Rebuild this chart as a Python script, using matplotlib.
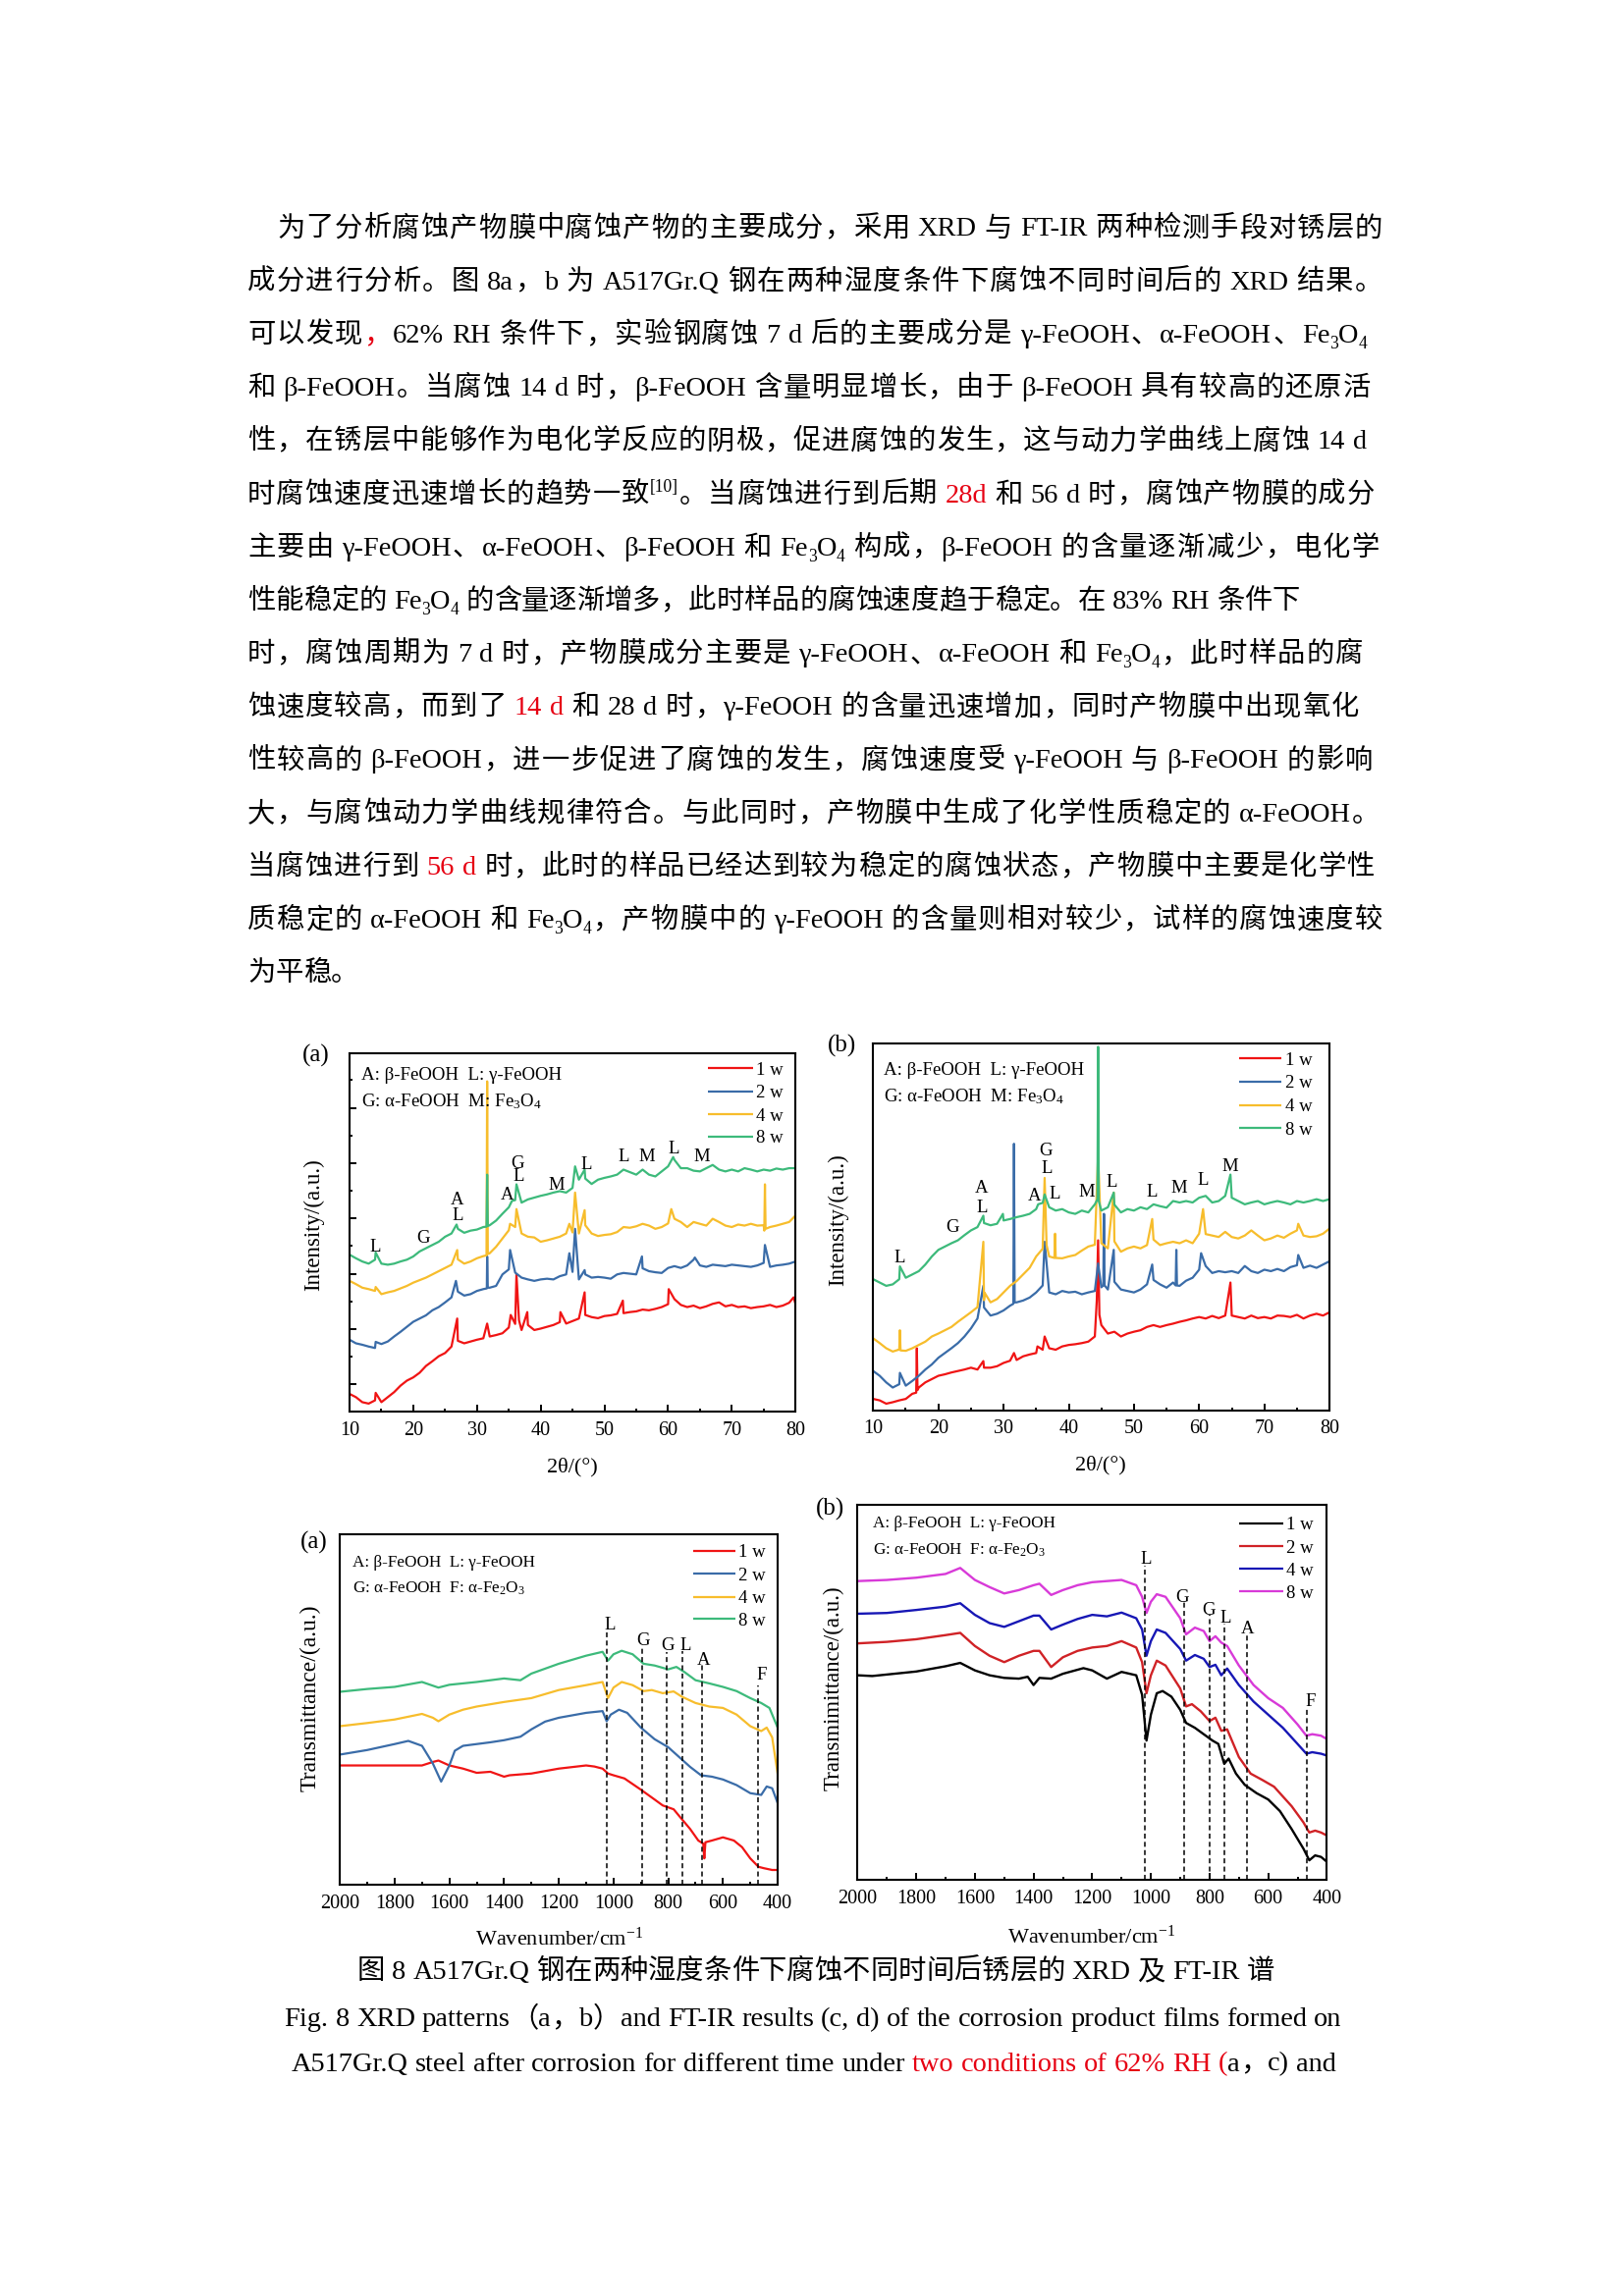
import functools
import numpy as np
import matplotlib
matplotlib.use("Agg")
import matplotlib.pyplot as plt
from matplotlib.font_manager import FontProperties
from matplotlib.ticker import MultipleLocator

W, H = 1654, 2339
FAM = ["Liberation Serif", "Noto Sans CJK SC"]
plt.rcParams["font.family"] = FAM
plt.rcParams["mathtext.fontset"] = "custom"
plt.rcParams["mathtext.rm"] = "Liberation Serif"
plt.rcParams["mathtext.default"] = "regular"

# -----------------------------
# data
# -----------------------------
weeks = ["1 w", "2 w", "4 w", "8 w"]
xrd_colors = ["#f01414", "#3a6ca8", "#f7bd2c", "#3dba7b"]
ftir_b_colors = ["#000000", "#d02226", "#1717b5", "#d83ad8"]

two_theta = np.arange(10, 81)

# XRD (a) 62% RH, baseline every 1 degree + peak points
xa_red = [5.0, 4.1, 2.7, 2.3, 3.2, 2.7, 4.1, 5.5, 7.3, 8.7,
          9.6, 10.9, 12.8, 14.1, 15.5, 16.4, 18.2, 19.8, 19.1, 19.6,
          20.1, 20.5, 21.0, 21.4, 21.9, 23.5, 24.5, 22.8, 24.2, 22.8,
          23.2, 23.7, 24.2, 25.0, 24.6, 25.3, 26.0, 27.0, 26.4, 26.1,
          26.7, 26.9, 27.3, 27.5, 27.8, 28.0, 28.5, 28.3, 28.7, 29.2,
          30.0, 31.4, 29.8, 29.2, 29.6, 28.9, 29.4, 30.1, 30.5, 29.4,
          29.8, 29.2, 29.4, 28.9, 29.2, 29.4, 29.8, 29.2, 29.6, 30.4, 30.1]
xa_red_pk_x = [14.1, 26.9, 31.6, 35.3, 36.2, 36.6, 37.9, 43.1, 46.9, 52.9, 60.1, 79.7]
xa_red_pk_y = [5.3, 26.0, 24.6, 27.0, 38.3, 25.5, 27.8, 27.8, 33.3, 31.0, 34.2, 31.9]

xa_blue = [20.1, 19.1, 18.7, 18.2, 17.8, 18.9, 19.6, 21.0, 22.3, 23.7,
           25.1, 26.0, 26.9, 28.3, 29.2, 30.5, 31.9, 33.5, 32.4, 32.8,
           33.7, 34.2, 34.6, 35.1, 38.3, 39.7, 38.8, 37.4, 36.9, 36.5,
           36.9, 37.1, 36.9, 37.8, 38.3, 39.0, 36.9, 38.3, 37.4, 37.6,
           37.4, 37.1, 38.3, 38.7, 38.5, 38.3, 40.0, 39.2, 38.9, 38.7,
           40.1, 40.6, 40.1, 40.8, 42.4, 40.8, 40.4, 41.0, 40.8, 40.6,
           41.0, 40.8, 40.6, 40.4, 40.8, 41.5, 40.4, 40.8, 41.0, 41.3, 41.9]
xa_blue_pk_x = [14.1, 26.7, 31.55, 31.6, 31.7, 35.2, 44.5, 45.4, 46.9, 55.9, 64.2, 75.2]
xa_blue_pk_y = [19.5, 36.5, 34.4, 43.3, 34.6, 45.1, 44.2, 51.0, 39.5, 43.3, 43.0, 46.5]

xa_orange = [36.5, 35.6, 34.6, 34.2, 33.7, 32.8, 33.3, 33.7, 34.4, 35.1,
             36.0, 36.7, 37.4, 38.3, 39.2, 40.1, 41.0, 42.5, 41.3, 41.9,
             42.8, 43.4, 44.2, 46.0, 48.3, 50.6, 51.5, 49.7, 48.8, 48.6,
             47.4, 47.8, 48.3, 48.8, 49.7, 50.0, 49.7, 52.0, 49.7, 49.0,
             49.3, 49.5, 50.1, 51.5, 51.3, 51.7, 52.4, 51.9, 51.0, 51.5,
             52.5, 53.8, 52.9, 51.5, 52.9, 52.4, 51.9, 53.8, 52.9, 51.9,
             51.5, 52.2, 51.9, 52.4, 51.9, 52.0, 51.5, 51.9, 52.4, 52.9, 54.7]
xa_orange_pk_x = [14.1, 26.9, 31.5, 31.6, 31.7, 35.2, 36.2, 44.5, 45.4, 46.9, 60.5, 75.1, 75.2, 75.3]
xa_orange_pk_y = [34.8, 45.1, 43.6, 92.1, 44.0, 52.4, 56.5, 52.4, 61.1, 56.2, 56.5, 50.5, 63.4, 51.0]

xa_green = [43.8, 42.8, 41.9, 41.3, 42.4, 41.3, 41.0, 41.3, 41.9, 42.4,
            43.3, 44.7, 45.6, 46.5, 47.4, 48.8, 49.7, 51.0, 49.9, 50.5,
            50.8, 51.5, 52.0, 53.3, 55.2, 57.0, 59.0, 58.3, 59.2, 59.7,
            60.2, 60.6, 61.1, 61.5, 61.1, 62.4, 64.7, 65.0, 63.5, 64.7,
            65.2, 65.6, 66.1, 67.5, 66.8, 66.1, 67.5, 66.1, 65.6, 67.0,
            68.4, 70.2, 67.9, 67.9, 67.2, 67.0, 67.9, 68.8, 67.5, 67.0,
            67.5, 67.0, 67.9, 67.5, 67.0, 67.5, 67.2, 67.8, 67.5, 67.9, 67.9]
xa_green_pk_x = [14.1, 26.8, 31.5, 31.6, 31.7, 35.5, 36.2, 45.4, 46.9, 60.8]
xa_green_pk_y = [44.4, 52.2, 51.6, 66.1, 51.8, 58.8, 63.4, 68.4, 67.5, 71.0]

# XRD (b) 83% RH
xb_red = [3.1, 2.7, 1.8, 2.2, 2.7, 3.1, 4.5, 6.2, 7.6, 8.5,
          9.4, 9.8, 10.3, 10.7, 11.1, 11.6, 11.1, 11.6, 11.6, 12.0,
          12.9, 13.5, 13.7, 14.7, 15.2, 15.6, 16.5, 16.9, 16.5, 17.4,
          17.8, 18.0, 18.3, 18.7, 20.1, 23.2, 20.9, 21.4, 20.1, 20.9,
          21.4, 21.8, 22.7, 23.2, 22.7, 23.2, 23.6, 24.1, 24.5, 25.0,
          25.4, 25.0, 25.7, 25.1, 25.8, 25.8, 25.4, 25.0, 25.8, 25.1,
          25.4, 25.0, 25.8, 25.7, 25.4, 26.0, 25.0, 25.8, 26.3, 25.8, 26.7]
xb_red_pk_x = [16.6, 16.7, 16.8, 26.9, 31.6, 35.2, 36.3, 44.3, 44.5, 44.7, 64.8]
xb_red_pk_y = [4.8, 16.9, 5.5, 13.4, 15.6, 17.4, 20.1, 30.0, 46.3, 26.0, 34.8]

xb_blue = [10.7, 9.4, 7.6, 6.2, 7.1, 6.7, 8.0, 9.4, 11.1, 12.5,
           14.3, 15.6, 16.9, 18.3, 20.1, 22.3, 25.0, 28.0, 25.8, 26.3,
           27.2, 28.5, 29.4, 29.9, 30.7, 32.1, 34.0, 32.1, 31.6, 32.5,
           32.1, 32.3, 31.6, 32.1, 32.5, 33.5, 32.9, 35.0, 32.9, 32.5,
           32.1, 32.9, 34.3, 35.5, 34.3, 33.4, 34.8, 33.9, 35.3, 36.1,
           38.3, 39.3, 37.4, 37.9, 37.6, 37.9, 37.4, 39.3, 37.9, 37.4,
           38.3, 37.9, 38.5, 37.9, 39.0, 39.5, 38.8, 39.4, 38.8, 39.7, 40.6]
xb_blue_pk_x = [14.1, 26.9, 31.5, 31.6, 31.7, 36.3, 44.5, 45.3, 45.4, 45.5, 46.9, 52.8,
                56.4, 56.5, 56.6, 60.3, 75.2]
xb_blue_pk_y = [10.2, 33.9, 29.0, 72.6, 29.4, 45.9, 40.0, 34.0, 53.5, 34.0, 43.7, 39.7,
                34.0, 43.7, 34.0, 42.8, 42.3]

xb_orange = [19.6, 18.3, 16.9, 16.0, 16.5, 16.2, 16.9, 17.8, 18.7, 20.1,
             20.9, 21.8, 22.7, 24.1, 25.4, 26.7, 28.1, 30.0, 29.4, 30.3,
             32.1, 33.9, 35.2, 37.0, 38.8, 41.9, 44.0, 41.9, 41.5, 41.4,
             41.9, 42.3, 43.5, 44.6, 45.1, 45.5, 44.1, 46.0, 43.2, 44.1,
             44.6, 44.1, 45.0, 46.5, 45.0, 45.5, 45.9, 45.5, 46.3, 45.5,
             48.1, 48.0, 47.6, 47.2, 48.6, 47.2, 46.8, 47.6, 49.0, 47.6,
             46.3, 46.8, 47.6, 47.0, 48.1, 49.0, 47.6, 47.2, 47.4, 48.1, 49.5]
xb_orange_pk_x = [13.9, 14.1, 14.2, 26.9, 27.1, 36.3, 36.6, 37.8, 37.9, 38.0, 44.5, 46.9,
                  52.8, 60.6, 75.2]
xb_orange_pk_y = [16.5, 21.8, 16.3, 45.9, 32.0, 63.3, 45.0, 41.5, 48.1, 41.5, 69.5, 59.3,
                  52.1, 54.8, 50.8]

xb_green = [35.7, 34.8, 33.9, 34.3, 35.7, 36.1, 37.0, 37.9, 39.7, 41.9,
            43.7, 44.6, 45.5, 46.3, 47.7, 49.0, 49.9, 51.0, 50.4, 50.8,
            51.7, 52.1, 52.6, 53.0, 53.5, 54.8, 56.5, 55.3, 54.4, 54.8,
            53.9, 53.5, 54.4, 53.9, 56.1, 54.4, 55.3, 56.0, 53.9, 54.8,
            54.4, 55.3, 54.8, 56.1, 55.6, 55.2, 57.0, 56.6, 57.0, 56.6,
            57.9, 58.4, 56.6, 57.0, 58.4, 57.9, 57.0, 56.1, 56.6, 57.0,
            56.1, 56.6, 57.0, 56.6, 56.1, 57.0, 56.6, 57.0, 57.5, 57.0, 57.5]
xb_green_pk_x = [14.1, 26.9, 29.9, 35.3, 36.3, 44.4, 44.5, 44.6, 46.9, 64.8]
xb_green_pk_y = [39.2, 53.0, 53.5, 56.1, 58.8, 57.5, 99.0, 57.0, 59.3, 64.2]

xrd_a_marks = [("L", 14.1, 46.5), ("G", 21.5, 49.0), ("A", 26.9, 59.7), ("L", 27.0, 55.2),
               ("A", 34.7, 60.9), ("G", 36.4, 69.7), ("L", 36.5, 66.1), ("M", 42.5, 63.8),
               ("L", 47.1, 69.3), ("L", 53.0, 71.6), ("M", 56.6, 71.7), ("L", 60.9, 73.8),
               ("M", 65.3, 71.7)]
xrd_b_marks = [("L", 14.0, 41.9), ("G", 22.1, 50.2), ("A", 26.6, 60.9), ("L", 26.7, 55.7),
               ("A", 34.7, 58.8), ("G", 36.5, 71.1), ("L", 36.6, 66.4), ("L", 37.9, 59.3),
               ("M", 42.8, 60.0), ("L", 46.6, 62.6), ("L", 52.7, 59.9), ("M", 56.9, 60.9),
               ("L", 60.6, 63.1), ("M", 64.7, 66.8)]

# FT-IR (c) 62% RH
fc_red_x = [2000, 1900, 1800, 1700, 1660, 1640, 1600, 1550, 1500, 1450,
            1400, 1380, 1300, 1200, 1100, 1070, 1040, 1020, 1000, 960,
            900, 850, 820, 780, 760, 720, 690, 672, 668, 664,
            640, 600, 560, 530, 500, 470, 450, 420, 400]
fc_red_y = [34.0, 34.0, 34.0, 34.0, 35.0, 35.4, 34.0, 33.1, 31.9, 32.2,
            30.8, 31.2, 31.7, 33.1, 34.0, 33.7, 33.1, 31.7, 31.2, 30.3,
            27.1, 24.3, 22.6, 21.5, 19.6, 15.9, 12.6, 11.7, 7.5, 12.1,
            12.6, 13.5, 12.6, 10.7, 7.5, 5.1, 4.7, 4.2, 4.2]
fc_blue_x = [2000, 1900, 1800, 1750, 1700, 1660, 1630, 1600, 1580, 1550,
             1500, 1450, 1400, 1340, 1300, 1250, 1200, 1100, 1040, 1025,
             1010, 980, 950, 900, 850, 800, 760, 720, 680, 640,
             600, 550, 500, 460, 440, 420, 400]
fc_blue_y = [37.1, 38.4, 40.1, 41.0, 39.6, 34.5, 29.4, 34.0, 38.2, 39.6,
             40.1, 40.6, 41.2, 42.2, 44.3, 46.5, 47.6, 49.0, 49.5, 46.6,
             48.5, 49.9, 49.0, 44.8, 41.5, 39.2, 36.4, 33.6, 31.2, 30.8,
             30.0, 28.4, 26.1, 25.6, 28.0, 27.5, 23.3]
fc_orange_x = [2000, 1900, 1800, 1700, 1660, 1640, 1600, 1550, 1500, 1400,
               1300, 1200, 1100, 1040, 1020, 1000, 970, 930, 890, 860,
               820, 780, 750, 700, 650, 600, 550, 500, 460, 440,
               420, 400]
fc_orange_y = [45.2, 46.1, 47.1, 48.7, 47.6, 46.6, 48.5, 49.9, 50.8, 52.1,
               53.2, 55.5, 56.9, 57.8, 53.2, 56.2, 57.8, 56.9, 55.2, 55.5,
               54.6, 55.1, 53.6, 51.8, 50.8, 50.4, 48.5, 45.2, 43.8, 44.8,
               42.0, 31.7]
fc_green_x = [2000, 1900, 1800, 1700, 1640, 1600, 1500, 1400, 1340, 1300,
              1200, 1100, 1040, 1020, 1000, 970, 930, 890, 850, 800,
              770, 740, 700, 650, 600, 550, 500, 460, 430, 400]
fc_green_y = [55.0, 55.8, 56.4, 57.8, 56.2, 57.0, 57.8, 58.8, 58.3, 60.2,
              63.0, 65.3, 66.4, 63.9, 65.7, 66.7, 65.7, 63.0, 62.5, 61.4,
              62.1, 60.6, 58.3, 57.4, 56.4, 55.2, 53.2, 51.8, 50.4, 44.8]
fc_bands = [1023, 895, 805, 747, 675, 470]
fc_band_top = [71.8, 67.6, 66.2, 66.7, 63.0, 56.9]
fc_band_names = ["L", "G", "G", "L", "A", "F"]
fc_band_lab = [(1013, 74.6), (893, 70.0), (803, 68.6), (737, 68.8), (670, 64.6), (459, 60.4)]

# FT-IR (d) 83% RH
fd_black_x = [2000, 1950, 1900, 1800, 1700, 1650, 1600, 1550, 1500, 1450,
              1420, 1400, 1380, 1340, 1300, 1230, 1200, 1150, 1100, 1050,
              1030, 1015, 1000, 980, 960, 930, 900, 880, 850, 820,
              790, 770, 750, 735, 710, 680, 640, 600, 560, 520,
              480, 460, 440, 420, 400]
fd_black_y = [54.5, 54.3, 54.7, 55.5, 56.9, 57.8, 55.8, 54.5, 53.8, 53.6,
              54.1, 51.9, 53.8, 53.6, 54.9, 56.4, 55.8, 53.6, 55.4, 54.5,
              49.3, 37.1, 44.0, 49.7, 50.3, 48.8, 45.3, 41.8, 40.5, 38.8,
              37.1, 36.2, 30.9, 32.3, 28.3, 25.3, 23.1, 21.4, 18.3, 13.5,
              8.3, 5.2, 6.5, 6.1, 4.8]
fd_red_x = [2000, 1900, 1800, 1700, 1650, 1600, 1550, 1500, 1450, 1400,
            1380, 1340, 1300, 1250, 1200, 1150, 1100, 1050, 1030, 1015,
            1000, 980, 950, 900, 880, 860, 830, 800, 780, 760,
            740, 700, 660, 620, 580, 520, 480, 460, 440, 420, 400]
fd_red_y = [63.0, 63.4, 64.1, 65.2, 65.8, 62.3, 59.7, 58.0, 59.7, 61.0,
            61.0, 56.7, 59.3, 61.0, 61.9, 62.3, 63.6, 61.9, 58.0, 49.7,
            54.5, 58.4, 57.1, 51.0, 46.2, 46.8, 44.9, 42.3, 43.2, 39.7,
            40.1, 32.7, 28.3, 26.6, 24.8, 19.6, 15.3, 12.6, 13.1, 12.6, 11.8]
fd_blue_x = [2000, 1900, 1800, 1700, 1650, 1600, 1550, 1500, 1450, 1400,
             1380, 1340, 1300, 1250, 1200, 1150, 1100, 1050, 1030, 1015,
             1000, 980, 950, 900, 880, 850, 820, 800, 780, 760,
             740, 700, 650, 600, 550, 500, 470, 450, 420, 400]
fd_blue_y = [70.9, 71.1, 71.9, 72.8, 73.7, 70.6, 68.4, 67.4, 68.9, 70.4,
             70.4, 66.7, 68.0, 69.5, 70.6, 70.2, 71.2, 69.7, 66.7, 59.7,
             63.6, 66.7, 65.8, 61.5, 58.4, 59.9, 58.9, 56.7, 57.3, 54.5,
             56.3, 51.9, 47.5, 44.0, 40.5, 36.2, 33.6, 34.0, 33.6, 33.1]
fd_mag_x = [2000, 1900, 1800, 1700, 1650, 1600, 1550, 1500, 1450, 1400,
            1380, 1340, 1300, 1250, 1200, 1100, 1050, 1030, 1015, 1000,
            980, 950, 900, 880, 850, 820, 800, 780, 760, 740,
            700, 650, 600, 550, 500, 470, 450, 420, 400]
fd_mag_y = [79.6, 79.9, 80.5, 81.5, 83.1, 79.9, 78.0, 76.3, 77.2, 78.5,
            78.9, 75.9, 77.2, 78.5, 79.3, 79.9, 78.5, 75.4, 71.1, 74.1,
            76.1, 75.4, 69.7, 65.4, 67.2, 66.3, 63.6, 64.9, 63.2, 62.3,
            57.1, 51.9, 48.4, 45.8, 41.4, 38.4, 38.8, 38.4, 37.5]
fd_bands = [1021, 888, 800, 750, 671, 467]
fd_band_top = [83.7, 74.1, 70.6, 68.4, 65.4, 45.8]
fd_band_names = ["L", "G", "G", "L", "A", "F"]
fd_band_lab = [(1017, 85.9), (892, 75.8), (802, 72.4), (747, 70.2), (671, 67.4), (457, 47.9)]

phase_xrd = ["A: β-FeOOH  L: γ-FeOOH", "G: α-FeOOH  M: Fe$_3$O$_4$"]
phase_ir = ["A: β-FeOOH  L: γ-FeOOH", "G: α-FeOOH  F: α-Fe$_2$O$_3$"]

# -----------------------------
# page text
# -----------------------------
para = [
    [("为了分析腐蚀产物膜中腐蚀产物的主要成分，采用 XRD 与 FT-IR 两种检测手段对锈层的", "n")],
    [("成分进行分析。图 8a，b 为 A517Gr.Q 钢在两种湿度条件下腐蚀不同时间后的 XRD 结果。", "n")],
    [("可以发现", "n"), ("，", "r"), ("62% RH 条件下，实验钢腐蚀 7 d 后的主要成分是 γ-FeOOH、α-FeOOH、Fe", "n"),
     ("3", "b"), ("O", "n"), ("4", "b")],
    [("和 β-FeOOH。当腐蚀 14 d 时，β-FeOOH 含量明显增长，由于 β-FeOOH 具有较高的还原活", "n")],
    [("性，在锈层中能够作为电化学反应的阴极，促进腐蚀的发生，这与动力学曲线上腐蚀 14 d", "n")],
    [("时腐蚀速度迅速增长的趋势一致", "n"), ("[10]", "p"), ("。当腐蚀进行到后期 ", "n"), ("28d", "r"),
     (" 和 56 d 时，腐蚀产物膜的成分", "n")],
    [("主要由 γ-FeOOH、α-FeOOH、β-FeOOH 和 Fe", "n"), ("3", "b"), ("O", "n"), ("4", "b"),
     (" 构成，β-FeOOH 的含量逐渐减少，电化学", "n")],
    [("性能稳定的 Fe", "n"), ("3", "b"), ("O", "n"), ("4", "b"),
     (" 的含量逐渐增多，此时样品的腐蚀速度趋于稳定。在 83% RH 条件下", "n")],
    [("时，腐蚀周期为 7 d 时，产物膜成分主要是 γ-FeOOH、α-FeOOH 和 Fe", "n"), ("3", "b"), ("O", "n"),
     ("4", "b"), ("，此时样品的腐", "n")],
    [("蚀速度较高，而到了 ", "n"), ("14 d", "r"), (" 和 28 d 时，γ-FeOOH 的含量迅速增加，同时产物膜中出现氧化", "n")],
    [("性较高的 β-FeOOH，进一步促进了腐蚀的发生，腐蚀速度受 γ-FeOOH 与 β-FeOOH 的影响", "n")],
    [("大，与腐蚀动力学曲线规律符合。与此同时，产物膜中生成了化学性质稳定的 α-FeOOH。", "n")],
    [("当腐蚀进行到 ", "n"), ("56 d", "r"), (" 时，此时的样品已经达到较为稳定的腐蚀状态，产物膜中主要是化学性", "n")],
    [("质稳定的 α-FeOOH 和 Fe", "n"), ("3", "b"), ("O", "n"), ("4", "b"),
     ("，产物膜中的 γ-FeOOH 的含量则相对较少，试样的腐蚀速度较", "n")],
    [("为平稳。", "n")],
]
para_right = [1408, 1408, 1392, 1396, 1392, 1400, 1405, None, 1388, 1384, 1398, 1405, 1400, 1408, None]

captions = [
    [("图 8 A517Gr.Q 钢在两种湿度条件下腐蚀不同时间后锈层的 XRD 及 FT-IR 谱", "n")],
    [("Fig. 8 XRD patterns（a，b）and FT-IR results (c, d) of the corrosion product films formed on", "n")],
    [("A517Gr.Q steel after corrosion for different time under ", "n"), ("two conditions of 62% RH (", "r"),
     ("a，c) and", "n")],
]
caption_pos = [(830.8, 2016), (828, 2064.5), (829, 2109.5)]

TXT_PT = 20.4
TXT_RED = "#e60012"
STY = {"n": (1.0, 0.0, "black"), "r": (1.0, 0.0, TXT_RED),
       "b": (0.62, 0.22, "black"), "p": (0.62, -0.36, "black")}

fig = plt.figure(figsize=(W / 100, H / 100), dpi=100)
page = fig.add_axes([0, 0, 1, 1])
page.set_xlim(0, W)
page.set_ylim(H, 0)
page.axis("off")
renderer = fig.canvas.get_renderer()


def is_cjk(c):
    return ord(c) >= 0x2E80


@functools.lru_cache(maxsize=None)
def adv(s, size):
    if is_cjk(s[0]):
        return size * 100 / 72 * len(s)
    prop = FontProperties(family=FAM, size=size)
    w2 = renderer.get_text_width_height_descent("H" + s + "H", prop, ismath=False)[0]
    w0 = renderer.get_text_width_height_descent("HH", prop, ismath=False)[0]
    return w2 - w0


def split_boxes(runs):
    boxes, cur, gap = [], None, False
    for text, st in runs:
        for c in text:
            if c == " ":
                gap, cur = True, None
                continue
            if is_cjk(c):
                boxes.append([gap, [(c, st)]])
                cur = None
            else:
                if cur is None:
                    cur = [gap, []]
                    boxes.append(cur)
                if cur[1] and cur[1][-1][1] == st:
                    cur[1][-1] = (cur[1][-1][0] + c, st)
                else:
                    cur[1].append((c, st))
            gap = False
    return boxes


def draw_line(runs, base, x0=None, right=None, center=None, size=TXT_PT):
    boxes = split_boxes(runs)
    em = size * 100 / 72
    gaps = [0.0] + [0.25 * em if g else 0.0 for g, _ in boxes[1:]]
    widths = [sum(adv(s, STY[k][0] * size) for s, k in parts) for _, parts in boxes]
    natural = sum(widths) + sum(gaps)
    stretch = 0.0
    if center is not None:
        x0 = center - natural / 2
    elif right is not None and len(boxes) > 1:
        stretch = (right - x0 - natural) / (len(boxes) - 1)
    x = x0
    for i, (g, parts) in enumerate(boxes):
        if i:
            x += gaps[i] + stretch
        for s, k in parts:
            scale, dy, col = STY[k]
            page.text(x, base + dy * em, s, fontsize=scale * size, color=col,
                      ha="left", va="baseline")
            x += adv(s, scale * size)


for i, (runs, right) in enumerate(zip(para, para_right)):
    draw_line(runs, 240.5 + 54.2 * i, x0=282 if i == 0 else 252, right=right)

for runs, (cx, by) in zip(captions, caption_pos):
    draw_line(runs, by, center=cx)

# -----------------------------
# charts
# -----------------------------
RA = (356.0, 1072.7, 810.2, 1438.3)
RB = (889.3, 1062.7, 1354.1, 1436.7)
RC = (346.2, 1562.7, 792.0, 1920.0)
RD = (873.4, 1532.7, 1351.4, 1915.0)

TICK_PT = 14.5
MARK_PT = 13.5
KEY_PT = 13.5


def px_axes(rect):
    l, t, r, b = rect
    return fig.add_axes([l / W, 1 - b / H, (r - l) / W, (b - t) / H])


def frac(rect, px, py):
    l, t, r, b = rect
    return (px - l) / (r - l), (b - py) / (b - t)


def base_axes(rect, xlim, major, minor):
    ax = px_axes(rect)
    ax.set_xlim(*xlim)
    ax.set_ylim(0, 100)
    ax.xaxis.set_major_locator(MultipleLocator(major))
    ax.xaxis.set_minor_locator(MultipleLocator(minor))
    ax.set_yticks([])
    for sp in ax.spines.values():
        sp.set_linewidth(1.5)
    ax.tick_params(which="both", direction="in", top=False, right=False, width=1.4,
                   labelsize=TICK_PT, pad=7.0)
    ax.tick_params(which="major", length=4.8)
    ax.tick_params(which="minor", length=2.0)
    return ax


def axis_labels(ax, rect, xlab, xpos, xsize, ylab, ypos, ysize):
    ax.set_xlabel(xlab, fontsize=xsize)
    ax.xaxis.set_label_coords(*frac(rect, *xpos))
    ax.xaxis.label.set_verticalalignment("center")
    ax.set_ylabel(ylab, fontsize=ysize)
    ax.yaxis.set_label_coords(*frac(rect, *ypos))
    ax.yaxis.label.set_verticalalignment("center")


def key(ax, rect, colors, x0, x1, xt, rows, lw=1.6):
    for name, col, yy in zip(weeks, colors, rows):
        a, fy = frac(rect, x0, yy)
        b, _ = frac(rect, x1, yy)
        c, _ = frac(rect, xt, yy)
        ax.plot([a, b], [fy, fy], color=col, lw=lw, transform=ax.transAxes,
                solid_capstyle="butt")
        ax.text(c, fy, name, transform=ax.transAxes, fontsize=KEY_PT, ha="left",
                va="center_baseline")


def phases(ax, rect, lines, x, rows, size):
    for s, yy in zip(lines, rows):
        fx, fy = frac(rect, x, yy)
        ax.text(fx, fy, s, transform=ax.transAxes, fontsize=size, ha="left",
                va="center_baseline")


def xrd_curve(base, pk_x, pk_y):
    x = np.concatenate([two_theta, pk_x])
    y = np.concatenate([base, pk_y])
    o = np.argsort(x, kind="stable")
    return x[o], y[o]


# XRD (a)
ax = base_axes(RA, (10, 80), 10, 5)
ax.yaxis.set_major_locator(MultipleLocator(15.4, offset=7.7))
ax.yaxis.set_minor_locator(MultipleLocator(15.4))
ax.tick_params(axis="y", labelleft=False)
for (b, px, py), col in zip([(xa_red, xa_red_pk_x, xa_red_pk_y),
                             (xa_blue, xa_blue_pk_x, xa_blue_pk_y),
                             (xa_orange, xa_orange_pk_x, xa_orange_pk_y),
                             (xa_green, xa_green_pk_x, xa_green_pk_y)], xrd_colors):
    ax.plot(*xrd_curve(b, px, py), color=col, lw=1.6)
for s, x, y in xrd_a_marks:
    ax.text(x, y, s, fontsize=MARK_PT, ha="center", va="center_baseline")
axis_labels(ax, RA, "2θ/(°)", (583, 1495), 16, "Intensity/(a.u.)", (320, 1248), 16.5)
key(ax, RA, xrd_colors, 721, 766.7, 770, [1088.3, 1111.7, 1135, 1157.7])
phases(ax, RA, phase_xrd, 368, [1093.3, 1120], 13.6)

# XRD (b)
ax = base_axes(RB, (10, 80), 10, 5)
for (b, px, py), col in zip([(xb_red, xb_red_pk_x, xb_red_pk_y),
                             (xb_blue, xb_blue_pk_x, xb_blue_pk_y),
                             (xb_orange, xb_orange_pk_x, xb_orange_pk_y),
                             (xb_green, xb_green_pk_x, xb_green_pk_y)], xrd_colors):
    ax.plot(*xrd_curve(b, px, py), color=col, lw=1.6)
for s, x, y in xrd_b_marks:
    ax.text(x, y, s, fontsize=MARK_PT, ha="center", va="center_baseline")
axis_labels(ax, RB, "2θ/(°)", (1121, 1493), 16, "Intensity/(a.u.)", (853.5, 1243), 16.5)
key(ax, RB, xrd_colors, 1261.7, 1304.8, 1309.3, [1078.3, 1101.7, 1126, 1149.3])
phases(ax, RB, phase_xrd, 900.4, [1088.3, 1115], 13.6)

# FT-IR (c)
ax = base_axes(RC, (2000, 400), 200, 100)
for x, y, col in zip([fc_red_x, fc_blue_x, fc_orange_x, fc_green_x],
                     [fc_red_y, fc_blue_y, fc_orange_y, fc_green_y], xrd_colors):
    ax.plot(x, y, color=col, lw=1.6)
for wn, top, name, (lx, ly) in zip(fc_bands, fc_band_top, fc_band_names, fc_band_lab):
    ax.plot([wn, wn], [0, top], color="black", lw=1.1, dashes=(3.3, 2.2))
    ax.text(lx, ly, name, fontsize=MARK_PT, ha="center", va="center_baseline")
axis_labels(ax, RC, "Wavenumber/cm$^{-1}$", (569.5, 1975), 16,
            "Transmittance/(a.u.)", (316, 1730), 17)
key(ax, RC, xrd_colors, 705.8, 749, 752.4, [1580, 1603.3, 1626.7, 1649.3])
phases(ax, RC, phase_ir, 359, [1590, 1616], 12.3)

# FT-IR (d)
ax = base_axes(RD, (2000, 400), 200, 100)
for x, y, col in zip([fd_black_x, fd_red_x, fd_blue_x, fd_mag_x],
                     [fd_black_y, fd_red_y, fd_blue_y, fd_mag_y], ftir_b_colors):
    ax.plot(x, y, color=col, lw=1.7)
for wn, top, name, (lx, ly) in zip(fd_bands, fd_band_top, fd_band_names, fd_band_lab):
    ax.plot([wn, wn], [0, top], color="black", lw=1.1, dashes=(3.3, 2.2))
    ax.text(lx, ly, name, fontsize=MARK_PT, ha="center", va="center_baseline")
axis_labels(ax, RD, "Wavenumber/cm$^{-1}$", (1112, 1973), 16,
            "Transmimittance/(a.u.)", (849, 1720), 16.5)
key(ax, RD, ftir_b_colors, 1261.7, 1306.7, 1310, [1551.7, 1575, 1598.3, 1621])
phases(ax, RD, phase_ir, 889.2, [1550, 1577.3], 12.3)

# panel letters
for s, x, y in [("(a)", 321.6, 1075), ("(b)", 857.3, 1065), ("(a)", 319.3, 1571.7), ("(b)", 845, 1537)]:
    page.text(x, y, s, fontsize=18, ha="center", va="center")

fig.savefig("out.png", dpi=100)
